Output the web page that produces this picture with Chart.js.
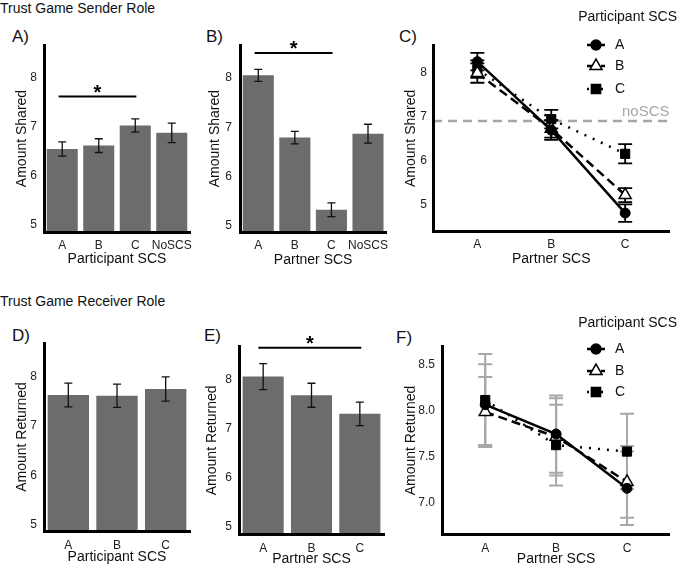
<!DOCTYPE html>
<html>
<head>
<meta charset="utf-8">
<script src="https://cdn.jsdelivr.net/npm/chart.js@4.4.0/dist/chart.umd.min.js"></script>
<style>
html, body { margin: 0; padding: 0; background: #fff; width: 678px; height: 567px; overflow: hidden; }
body { position: relative; font-family: "Liberation Sans", Arial, Helvetica, sans-serif; color: #111; }
canvas { position: absolute; }
.lbl { position: absolute; white-space: nowrap; line-height: 1; }
</style>
</head>
<body>
<div class="lbl" style="left:0px;top:1px;font-size:14px">Trust Game Sender Role</div>
<div class="lbl" style="left:0px;top:294px;font-size:14px">Trust Game Receiver Role</div>
<div class="lbl" style="left:12px;top:28px;font-size:17px">A)</div>
<div class="lbl" style="left:206px;top:28px;font-size:17px">B)</div>
<div class="lbl" style="left:399px;top:28px;font-size:17px">C)</div>
<div class="lbl" style="left:12px;top:327px;font-size:17px">D)</div>
<div class="lbl" style="left:204px;top:327px;font-size:17px">E)</div>
<div class="lbl" style="left:396px;top:329px;font-size:17px">F)</div>

<script>
var FONT = '"Liberation Sans", Arial, Helvetica, sans-serif';

// Sender role: A) participant SCS, B) partner SCS, C) interaction
var senderBarCats = ["A", "B", "C", "NoSCS"];
var participantShared = [6.55, 6.62, 7.03, 6.88];
var participantSharedErr = [0.145, 0.14, 0.135, 0.2];
var partnerShared = [8.05, 6.79, 5.33, 6.87];
var partnerSharedErr = [0.12, 0.125, 0.14, 0.19];

var partnerCats = ["A", "B", "C"];
var sharedA = [8.25, 6.69, 4.80];
var sharedAErr = [0.2, 0.22, 0.2];
var sharedB = [7.99, 6.72, 5.21];
var sharedBErr = [0.22, 0.2, 0.16];
var sharedC = [8.08, 6.94, 6.15];
var sharedCErr = [0.2, 0.21, 0.22];
var noScsShared = 6.9;

// Receiver role: D) participant SCS, E) partner SCS, F) interaction
var receiverBarCats = ["A", "B", "C"];
var participantReturned = [7.63, 7.615, 7.75];
var participantReturnedErr = [0.24, 0.235, 0.245];
var partnerReturned = [8.07, 7.69, 7.31];
var partnerReturnedErr = [0.265, 0.245, 0.24];

var returnedA = [8.07, 7.75, 7.16];
var returnedAErr = [0.44, 0.42, 0.40];
var returnedB = [7.99, 7.72, 7.23];
var returnedBErr = [0.38, 0.42, 0.39];
var returnedC = [8.12, 7.63, 7.56];
var returnedCErr = [0.50, 0.44, 0.41];

var barTicks = [5, 6, 7, 8];
var returnedLineTicks = [7.0, 7.5, 8.0, 8.5];

var sigParticipantShared = { from: 0, to: 2, level: 7.62 };
var sigPartnerShared = { from: 0, to: 2, level: 8.50 };
var sigPartnerReturned = { from: 0, to: 2, level: 8.66 };

var legendItems = [
    { label: "A", style: "circle", dash: [], fill: "#000" },
    { label: "B", style: "triangle", dash: [9, 5], fill: "#fff" },
    { label: "C", style: "rect", dash: [2, 5], fill: "#000" }
];

function drawMarker(ctx, style, x, y, r) {
    ctx.beginPath();
    if (style === "circle") {
        ctx.arc(x, y, r, 0, Math.PI * 2);
    } else if (style === "triangle") {
        var a = 0;
        ctx.moveTo(x + Math.sin(a) * r, y - Math.cos(a) * r);
        a += Math.PI * 2 / 3;
        ctx.lineTo(x + Math.sin(a) * r, y - Math.cos(a) * r);
        a += Math.PI * 2 / 3;
        ctx.lineTo(x + Math.sin(a) * r, y - Math.cos(a) * r);
        ctx.closePath();
    } else {
        var s = r * Math.SQRT1_2;
        ctx.rect(x - s, y - s, 2 * s, 2 * s);
    }
    ctx.fill();
    ctx.stroke();
}

function errorBarPlugin(sets, before) {
    var hook = before ? "beforeDatasetsDraw" : "afterDatasetsDraw";
    var p = { id: "errbars" };
    p[hook] = function (chart) {
        var ctx = chart.ctx;
        var ys = chart.scales.y;
        sets.forEach(function (s) {
            var meta = chart.getDatasetMeta(s.dataset);
            var data = chart.data.datasets[s.dataset].data;
            ctx.save();
            ctx.strokeStyle = s.color;
            ctx.lineWidth = s.width;
            meta.data.forEach(function (el, i) {
                var v = typeof data[i] === "object" ? data[i].y : data[i];
                var top = ys.getPixelForValue(v + s.err[i]);
                var bot = ys.getPixelForValue(v - s.err[i]);
                ctx.beginPath();
                ctx.moveTo(el.x, top);
                ctx.lineTo(el.x, bot);
                ctx.moveTo(el.x - s.cap, top);
                ctx.lineTo(el.x + s.cap, top);
                ctx.moveTo(el.x - s.cap, bot);
                ctx.lineTo(el.x + s.cap, bot);
                ctx.stroke();
            });
            ctx.restore();
        });
    };
    return p;
}

function sigPlugin(sig) {
    return {
        id: "sig",
        afterDraw: function (chart) {
            var ctx = chart.ctx;
            var xs = chart.scales.x;
            var step = xs.getPixelForValue(1) - xs.getPixelForValue(0);
            var x1 = xs.getPixelForValue(sig.from) - step * 0.1;
            var x2 = xs.getPixelForValue(sig.to) + step * 0.03;
            var y = chart.scales.y.getPixelForValue(sig.level);
            ctx.save();
            ctx.strokeStyle = "#000";
            ctx.lineWidth = 2;
            ctx.beginPath();
            ctx.moveTo(x1, y);
            ctx.lineTo(x2, y);
            ctx.stroke();
            ctx.fillStyle = "#000";
            ctx.font = "bold 20px " + FONT;
            ctx.textAlign = "center";
            ctx.textBaseline = "alphabetic";
            ctx.fillText("*", (x1 + x2) / 2, y + 2);
            ctx.restore();
        }
    };
}

function noScsPlugin(level) {
    return {
        id: "noscs",
        beforeDatasetsDraw: function (chart) {
            var ctx = chart.ctx;
            var a = chart.chartArea;
            var y = chart.scales.y.getPixelForValue(level);
            ctx.save();
            ctx.strokeStyle = "#a6a6a6";
            ctx.lineWidth = 2.5;
            ctx.setLineDash([9, 6]);
            ctx.beginPath();
            ctx.moveTo(a.left, y);
            ctx.lineTo(a.right, y);
            ctx.stroke();
            ctx.setLineDash([]);
            ctx.fillStyle = "#a6a6a6";
            ctx.font = "15px " + FONT;
            ctx.textAlign = "right";
            ctx.textBaseline = "middle";
            ctx.fillText("noSCS", a.right, y - 9);
            ctx.restore();
        }
    };
}

function legendPlugin(pos) {
    return {
        id: "customLegend",
        afterDraw: function (chart) {
            var ctx = chart.ctx;
            ctx.save();
            ctx.fillStyle = "#111";
            ctx.font = "14px " + FONT;
            ctx.textAlign = "right";
            ctx.textBaseline = "middle";
            ctx.fillText("Participant SCS", pos.titleRight, pos.titleY);
            legendItems.forEach(function (it, i) {
                var y = pos.itemY[i];
                ctx.strokeStyle = "#000";
                ctx.lineWidth = 2.5;
                ctx.setLineDash(it.dash);
                ctx.beginPath();
                ctx.moveTo(pos.lineX1, y);
                ctx.lineTo(pos.lineX2, y);
                ctx.stroke();
                ctx.setLineDash([]);
                ctx.lineWidth = 1.5;
                ctx.fillStyle = it.fill;
                var mx = (pos.lineX1 + pos.lineX2) / 2;
                drawMarker(ctx, it.style, mx, y, it.style === "triangle" ? 7 : (it.style === "rect" ? 6.5 : 5));
                ctx.fillStyle = "#111";
                ctx.font = "14px " + FONT;
                ctx.textAlign = "left";
                ctx.fillText(it.label, pos.textX, y);
                ctx.textAlign = "right";
            });
            ctx.restore();
        }
    };
}

function makePanel(p) {
    var cv = document.createElement("canvas");
    cv.width = p.box[2];
    cv.height = p.box[3];
    cv.style.left = p.box[0] + "px";
    cv.style.top = p.box[1] + "px";
    document.body.appendChild(cv);

    var titleLH = 14 * 1.2;
    var yw = p.plot[0] - p.box[0];
    var xh = p.box[1] + p.box[3] - p.plot[3];

    var xScale = {
        afterFit: function (s) { s.height = xh; },
        grid: { display: false, drawTicks: false },
        border: { display: true, color: "#000", width: 3, z: 1 },
        ticks: { font: { family: FONT, size: 12 }, color: "#222", padding: p.xTickPad || 6, maxRotation: 0, autoSkip: false },
        title: {
            display: true,
            text: p.xTitle,
            font: { family: FONT, size: 14 },
            color: "#111",
            padding: { top: 0, bottom: p.box[1] + p.box[3] - p.xTitleY - titleLH / 2 }
        }
    };
    if (p.linearX) {
        xScale.type = "linear";
        xScale.min = -0.6;
        xScale.max = 2.6;
        xScale.afterBuildTicks = function (s) {
            s.ticks = partnerCats.map(function (c, i) { return { value: i }; });
        };
        xScale.ticks.callback = function (v) { return partnerCats[v]; };
    }

    new Chart(cv.getContext("2d"), {
        type: p.type,
        data: p.data,
        options: {
            responsive: false,
            animation: false,
            devicePixelRatio: 1,
            layout: {
                padding: {
                    left: 0,
                    top: p.plot[1] - p.box[1],
                    right: p.box[0] + p.box[2] - p.plot[2],
                    bottom: 0
                }
            },
            plugins: { legend: { display: false }, tooltip: { enabled: false } },
            scales: {
                x: xScale,
                y: {
                    min: p.yRange[0],
                    max: p.yRange[1],
                    afterBuildTicks: function (s) {
                        s.ticks = p.yTicks.map(function (v) { return { value: v }; });
                    },
                    afterFit: function (s) { s.width = yw; },
                    grid: { display: false, drawTicks: false },
                    border: { display: true, color: "#000", width: 3, z: 1 },
                    ticks: {
                        font: { family: FONT, size: 12 },
                        color: "#222",
                        padding: p.plot[0] - p.yTickRight,
                        callback: function (v) { return p.yDecimals ? v.toFixed(1) : String(v); }
                    },
                    title: {
                        display: true,
                        text: p.yTitle,
                        font: { family: FONT, size: 14 },
                        color: "#111",
                        padding: { top: p.yTitleX - p.box[0] - titleLH / 2, bottom: 0 }
                    }
                }
            }
        },
        plugins: p.plugins
    });
}

function barData(cats, values) {
    return {
        labels: cats,
        datasets: [{
            data: values,
            backgroundColor: "#6c6c6c",
            borderWidth: 0,
            barPercentage: 0.85,
            categoryPercentage: 1
        }]
    };
}

function points(values) {
    return values.map(function (v, i) { return { x: i, y: v }; });
}

function lineData(a, b, c) {
    return {
        datasets: [
            {
                data: points(a), borderColor: "#000", borderWidth: 2.5, pointStyle: "circle",
                pointRadius: 5, pointBackgroundColor: "#000", pointBorderColor: "#000", pointBorderWidth: 1
            },
            {
                data: points(b), borderColor: "#000", borderWidth: 2.5, borderDash: [9, 5], pointStyle: "triangle",
                pointRadius: 7, pointBackgroundColor: "#fff", pointBorderColor: "#000", pointBorderWidth: 1.5
            },
            {
                data: points(c), borderColor: "#000", borderWidth: 2.5, borderDash: [2, 7], pointStyle: "rect",
                pointRadius: 6.5, pointBackgroundColor: "#000", pointBorderColor: "#000", pointBorderWidth: 1
            }
        ]
    };
}

// A)
makePanel({
    type: "bar", box: [0, 30, 200, 245], plot: [44, 45, 190, 232],
    yRange: [4.86, 8.67], yTicks: barTicks, yTitle: "Amount Shared", yTitleX: 22, yTickRight: 37,
    xTitle: "Participant SCS", xTitleY: 259,
    data: barData(senderBarCats, participantShared),
    plugins: [errorBarPlugin([{ dataset: 0, err: participantSharedErr, color: "#111", width: 1.3, cap: 4 }]),
        sigPlugin(sigParticipantShared)]
});

// B)
makePanel({
    type: "bar", box: [200, 30, 195, 245], plot: [240, 45, 387, 232],
    yRange: [4.88, 8.66], yTicks: barTicks, yTitle: "Amount Shared", yTitleX: 215, yTickRight: 232,
    xTitle: "Partner SCS", xTitleY: 260,
    data: barData(senderBarCats, partnerShared),
    plugins: [errorBarPlugin([{ dataset: 0, err: partnerSharedErr, color: "#111", width: 1.3, cap: 4 }]),
        sigPlugin(sigPartnerShared)]
});

// C)
makePanel({
    type: "line", linearX: true, box: [395, 4, 283, 271], plot: [433, 45, 677, 231.7],
    yRange: [4.375, 8.63], yTicks: barTicks, yTitle: "Amount Shared", yTitleX: 411, yTickRight: 427,
    xTitle: "Partner SCS", xTitleY: 259,
    data: lineData(sharedA, sharedB, sharedC),
    plugins: [
        noScsPlugin(noScsShared),
        errorBarPlugin([
            { dataset: 0, err: sharedAErr, color: "#000", width: 1.8, cap: 7 },
            { dataset: 1, err: sharedBErr, color: "#000", width: 1.8, cap: 7 },
            { dataset: 2, err: sharedCErr, color: "#000", width: 1.8, cap: 7 }
        ], true),
        legendPlugin({ titleRight: 282, titleY: 13, lineX1: 192, lineX2: 210, textX: 220, itemY: [41, 62, 85] })
    ]
});

// D)
makePanel({
    type: "bar", box: [0, 325, 200, 245], plot: [44, 343, 190, 531],
    yRange: [4.88, 8.68], yTicks: barTicks, yTitle: "Amount Returned", yTitleX: 22, yTickRight: 37,
    xTitle: "Participant SCS", xTitleY: 557, xTickPad: 7,
    data: barData(receiverBarCats, participantReturned),
    plugins: [errorBarPlugin([{ dataset: 0, err: participantReturnedErr, color: "#111", width: 1.3, cap: 4 }])]
});

// E)
makePanel({
    type: "bar", box: [200, 325, 195, 245], plot: [239, 346.7, 384, 534],
    yRange: [4.86, 8.68], yTicks: barTicks, yTitle: "Amount Returned", yTitleX: 212, yTickRight: 232,
    xTitle: "Partner SCS", xTitleY: 559.5, xTickPad: 7,
    data: barData(receiverBarCats, partnerReturned),
    plugins: [errorBarPlugin([{ dataset: 0, err: partnerReturnedErr, color: "#111", width: 1.3, cap: 4 }]),
        sigPlugin(sigPartnerReturned)]
});

// F)
makePanel({
    type: "line", linearX: true, box: [395, 312, 283, 258], plot: [442.7, 346.7, 677, 534.3],
    yRange: [6.66, 8.70], yTicks: returnedLineTicks, yDecimals: true, yTitle: "Amount Returned", yTitleX: 411, yTickRight: 435,
    xTitle: "Partner SCS", xTitleY: 559, xTickPad: 7,
    data: lineData(returnedA, returnedB, returnedC),
    plugins: [
        errorBarPlugin([
            { dataset: 0, err: returnedAErr, color: "#a8a8a8", width: 2, cap: 7 },
            { dataset: 1, err: returnedBErr, color: "#a8a8a8", width: 2, cap: 7 },
            { dataset: 2, err: returnedCErr, color: "#a8a8a8", width: 2, cap: 7 }
        ], true),
        legendPlugin({ titleRight: 282, titleY: 11, lineX1: 192, lineX2: 210, textX: 220, itemY: [37, 59, 80] })
    ]
});
</script>
</body>
</html>
